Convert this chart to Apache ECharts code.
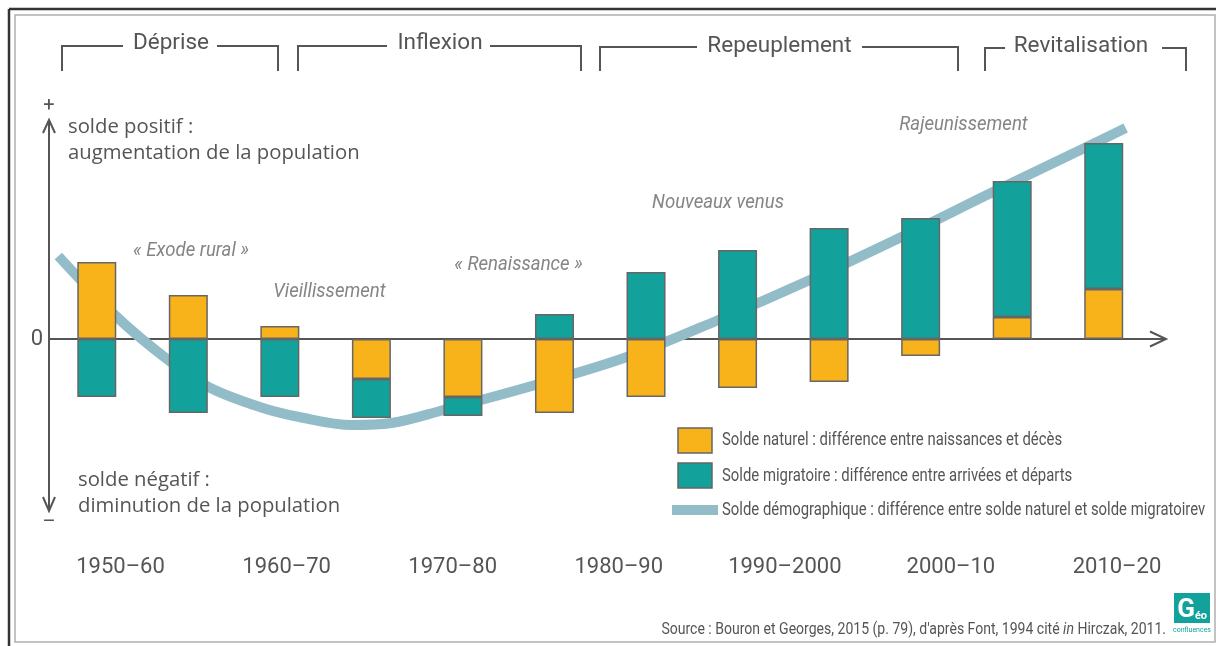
<!DOCTYPE html>
<html>
<head>
<meta charset="utf-8">
<script src="https://cdn.jsdelivr.net/npm/echarts@6/dist/echarts.min.js"></script>
<style>
html,body{margin:0;padding:0;background:#fff;}
#c{width:1216px;height:646px;}
</style>
</head>
<body>
<div id="c"></div>
<script>
// ---- data ----
const barSlots = ['1','2','3','4','5','6','7','8','9','10','11','12'];
const soldeNaturel    = [77, 44, 13, -40, -58, -74, -58, -49, -43, -17, 22, 50];
const soldeMigratoire = [-58, -74, -58, -39, -19, 25, 67, 89, 111, 121, 136, 146];
const curveX = [-0.42, 0.22, 0.78, 1.22, 1.78, 2.21, 2.79, 3.22, 3.79, 4.79, 5.79, 6.79, 7.79, 8.79, 9.79, 10.79, 11.24];
const curveY = [83, 22, -21, -48, -68, -78, -86, -84, -71, -46, -18, 19, 59, 102, 147, 191, 211];
const decadeLabels = ['1950–60','1960–70','1970–80','1980–90','1990–2000','2000–10','2010–20'];
const periods = ['Déprise','Inflexion','Repeuplement','Revitalisation'];
const phaseNotes = ['« Exode rural »','Vieillissement','« Renaissance »','Nouveaux venus','Rajeunissement'];
const legendLabels = [
  'Solde naturel : différence entre naissances et décès',
  'Solde migratoire : différence entre arrivées et départs',
  'Solde démographique : différence entre solde naturel et solde migratoirev'
];
const axisNotes = ['solde positif :','augmentation de la population','solde négatif :','diminution de la population'];
const sourceParts = ["Source : Bouron et Georges, 2015 (p. 79), d'après Font, 1994 cité ", 'in', ' Hirczak, 2011.'];

// ---- styles ----
const ORANGE = '#F8B31B', TEAL = '#13A29B', CURVE = '#93BCC9', DARK = '#555555', NOTE = '#858585';
const FONT = 'Roboto';

const chart = echarts.init(document.getElementById('c'), null, {renderer: 'canvas'});

function line(x1, y1, x2, y2, stroke, lw) {
  return {type: 'line', silent: true, shape: {x1, y1, x2, y2}, style: {stroke, lineWidth: lw}};
}
function poly(points, stroke, lw) {
  return {type: 'polyline', silent: true, shape: {points}, style: {stroke, lineWidth: lw, fill: null}};
}
function text(str, x, y, opts) {
  opts = opts || {};
  return {
    type: 'text', silent: true, x, y, scaleX: opts.scaleX || 1,
    style: {
      text: str, fill: opts.color || DARK,
      font: (opts.style || 'normal') + ' ' + (opts.weight || 'normal') + ' ' + (opts.size || 20) + 'px ' + (opts.family || FONT),
      align: opts.align || 'left', verticalAlign: 'middle'
    }
  };
}

const graphics = [];
// frame
graphics.push(line(9, 9, 1216, 9, '#333', 2.5));
graphics.push(line(9, 9, 9, 646, '#333', 2.5));
graphics.push({type: 'rect', silent: true, shape: {x: 15, y: 15, width: 1200, height: 627}, style: {fill: null, stroke: '#b0b0b0', lineWidth: 1.5}});

// period brackets
const brackets = [
  {l: 62, r: 278, a: 123, b: 217, y: 46, tx: 171, ty: 43},
  {l: 298, r: 581, a: 387, b: 490, y: 46, tx: 440, ty: 43},
  {l: 600, r: 958, a: 697, b: 862, y: 47, tx: 779.5, ty: 46},
  {l: 985, r: 1186, a: 1005, b: 1162, y: 48, tx: 1081, ty: 46}
];
brackets.forEach((b, i) => {
  graphics.push(poly([[b.l, 71], [b.l, b.y], [b.a, b.y]], DARK, 2));
  graphics.push(poly([[b.b, b.y], [b.r, b.y], [b.r, 71]], DARK, 2));
  graphics.push(text(periods[i], b.tx, b.ty, {size: 22.5, align: 'center'}));
});

// axes (arrows)
graphics.push(line(49, 121, 49, 511, DARK, 2));
graphics.push(poly([[43, 133], [49, 120], [55, 133]], DARK, 2));
graphics.push(poly([[43, 497], [49, 511], [55, 497]], DARK, 2));
graphics.push(line(49, 339, 1166, 339, DARK, 2));
graphics.push(poly([[1150, 331.5], [1166, 339], [1150, 346.5]], DARK, 2));
graphics.push(text('+', 49, 106, {size: 20, align: 'center'}));
graphics.push(text('–', 49, 523, {size: 20, align: 'center'}));

// axis notes
graphics.push(text(axisNotes[0], 68, 127, {size: 20.3, family: 'Open Sans'}));
graphics.push(text(axisNotes[1], 68, 153, {size: 20.3, family: 'Open Sans'}));
graphics.push(text(axisNotes[2], 78, 480, {size: 20.3, family: 'Open Sans'}));
graphics.push(text(axisNotes[3], 78, 506, {size: 20.3, family: 'Open Sans'}));

// phase notes
const notePos = [[191, 251], [329.5, 292], [518.5, 265], [718, 203], [963.5, 125]];
phaseNotes.forEach((t, i) => {
  graphics.push(text(t, notePos[i][0], notePos[i][1], {size: 20, style: 'italic', align: 'center', color: NOTE, scaleX: 0.93}));
});

// legend
graphics.push({type: 'rect', silent: true, shape: {x: 678, y: 428, width: 34, height: 25}, style: {fill: ORANGE, stroke: '#666', lineWidth: 1.5}});
graphics.push({type: 'rect', silent: true, shape: {x: 678, y: 463, width: 34, height: 25}, style: {fill: TEAL, stroke: '#666', lineWidth: 1.5}});
graphics.push({type: 'rect', silent: true, shape: {x: 672, y: 505, width: 46, height: 10}, style: {fill: CURVE}});
graphics.push(text(legendLabels[0], 722, 440, {size: 18, scaleX: 0.826}));
graphics.push(text(legendLabels[1], 722, 476, {size: 18, scaleX: 0.826}));
graphics.push(text(legendLabels[2], 722, 510, {size: 18, scaleX: 0.826}));

// source
graphics.push({
  type: 'text', silent: true, x: 1166, y: 630, scaleX: 0.877,
  style: {
    text: '{a|' + sourceParts[0] + '}{i|' + sourceParts[1] + '}{a|' + sourceParts[2] + '}',
    align: 'right', verticalAlign: 'middle',
    rich: {
      a: {fontFamily: FONT, fontSize: 16, fill: DARK, color: DARK},
      i: {fontFamily: FONT, fontSize: 16, fontStyle: 'italic', fill: DARK, color: DARK}
    }
  }
});
// logo
graphics.push({type: 'rect', silent: true, shape: {x: 1174, y: 593, width: 36, height: 30}, style: {fill: TEAL}});
graphics.push(text('G', 1186, 610, {size: 26, weight: 'bold', color: '#fff', align: 'center'}));
graphics.push(text('éo', 1201, 616, {size: 11, weight: 'bold', color: '#fff', align: 'center'}));
graphics.push(text('confluences', 1192, 630, {size: 7, color: TEAL, align: 'center'}));

const option = {
  animation: false,
  backgroundColor: '#fff',
  textStyle: {fontFamily: FONT},
  grid: [
    {left: 51, right: 66.5, top: 120, bottom: 134},
    {left: 37.5, right: 16, top: 540, height: 10}
  ],
  xAxis: [
    {type: 'category', gridIndex: 0, data: barSlots, show: false},
    {type: 'value', gridIndex: 0, min: -0.5, max: 11.5, show: false},
    {type: 'category', gridIndex: 1, data: decadeLabels,
      axisLine: {show: false}, axisTick: {show: false}, splitLine: {show: false},
      axisLabel: {fontSize: 22, color: DARK, fontFamily: FONT, margin: 6, interval: 0}}
  ],
  yAxis: [
    {type: 'value', gridIndex: 0, min: -173, max: 219,
      axisLine: {show: false}, axisTick: {show: false}, splitLine: {show: false},
      axisLabel: {showMinLabel: false, showMaxLabel: false, fontSize: 22, color: DARK, margin: 8,
        formatter: v => (v === 0 ? '0' : '')}},
    {type: 'value', gridIndex: 1, show: false}
  ],
  series: [
    {
      name: 'Solde démographique', type: 'line', xAxisIndex: 1, yAxisIndex: 0, z: 1,
      data: curveX.map((x, i) => [x, curveY[i]]),
      smooth: 0.35, showSymbol: false, symbol: 'none', silent: true,
      lineStyle: {color: CURVE, width: 10, cap: 'butt', join: 'round'}
    },
    {
      name: 'Solde naturel', type: 'bar', stack: 'solde', xAxisIndex: 0, yAxisIndex: 0, z: 3,
      data: soldeNaturel, barWidth: 39,
      itemStyle: {color: ORANGE, borderColor: '#666', borderWidth: 1.5}
    },
    {
      name: 'Solde migratoire', type: 'bar', stack: 'solde', xAxisIndex: 0, yAxisIndex: 0, z: 3,
      data: soldeMigratoire, barWidth: 39,
      itemStyle: {color: TEAL, borderColor: '#666', borderWidth: 1.5}
    }
  ],
  graphic: {elements: graphics}
};
chart.setOption(option);
</script>
</body>
</html>
